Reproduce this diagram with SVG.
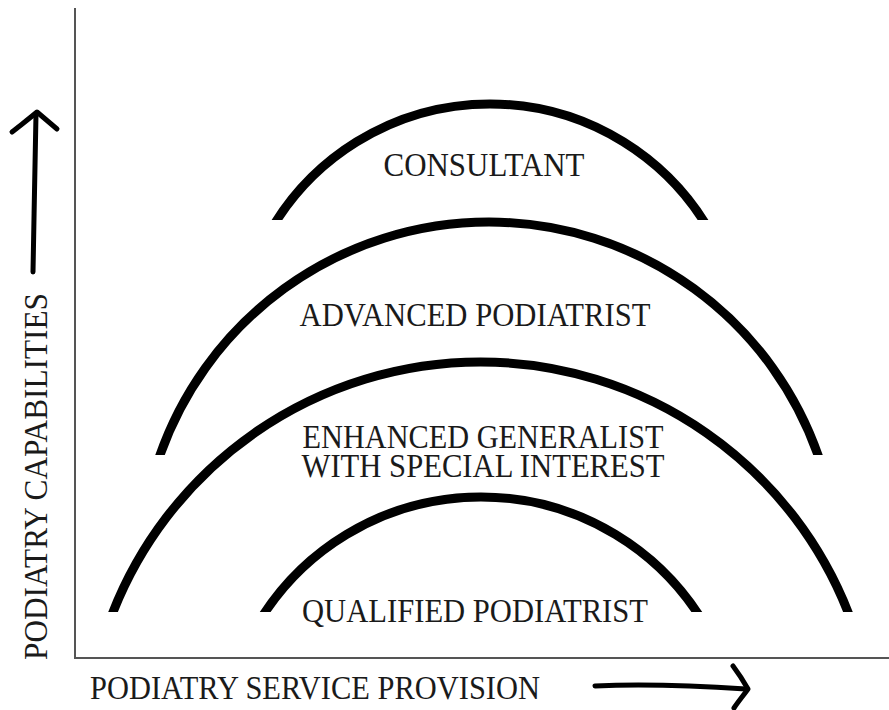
<svg xmlns="http://www.w3.org/2000/svg" width="889" height="710" viewBox="0 0 889 710">
<style>
.arc{fill:none;stroke:#000;stroke-width:9;stroke-linecap:butt}
.lbl{font-family:"Liberation Serif","Times New Roman",serif;font-size:34px;fill:#1a1a1a}
.axis{stroke:#555;stroke-width:2;fill:none}
.hand{fill:none;stroke:#000;stroke-width:5;stroke-linecap:round;stroke-linejoin:round}
</style>
<defs>
<clipPath id="c1"><rect x="0" y="0" width="889" height="220"/></clipPath>
<clipPath id="c2"><rect x="0" y="0" width="889" height="455"/></clipPath>
<clipPath id="c3"><rect x="0" y="0" width="889" height="612"/></clipPath>
</defs>
<rect width="889" height="710" fill="#fff"/>
<g id="axes">
<path class="axis" d="M75,8 V658 H889"/>
</g>
<g id="consultant">
<path class="arc" clip-path="url(#c1)" d="M272,228 A253.6,253.6 0 0 1 708,228"/>
<text class="lbl" x="484" y="176" text-anchor="middle" textLength="201" lengthAdjust="spacingAndGlyphs">CONSULTANT</text>
</g>
<g id="advanced">
<path class="arc" clip-path="url(#c2)" d="M157.3,463 A348.8,348.8 0 0 1 820.7,463"/>
<text class="lbl" x="475" y="326" text-anchor="middle" textLength="351" lengthAdjust="spacingAndGlyphs">ADVANCED PODIATRIST</text>
</g>
<g id="enhanced">
<path class="arc" clip-path="url(#c3)" d="M110,620 A395,395 0 0 1 851,620"/>
<text class="lbl" x="483" y="448" text-anchor="middle" textLength="361" lengthAdjust="spacingAndGlyphs">ENHANCED GENERALIST</text>
<text class="lbl" x="483" y="477" text-anchor="middle" textLength="363" lengthAdjust="spacingAndGlyphs">WITH SPECIAL INTEREST</text>
</g>
<g id="qualified">
<path class="arc" clip-path="url(#c3)" d="M260,620 A260,260 0 0 1 702,620"/>
<text class="lbl" x="475" y="622" text-anchor="middle" textLength="346" lengthAdjust="spacingAndGlyphs">QUALIFIED PODIATRIST</text>
</g>
<g id="y-label">
<text class="lbl" transform="translate(47,660) rotate(-90)" x="0" y="0" textLength="367" lengthAdjust="spacingAndGlyphs">PODIATRY CAPABILITIES</text>
</g>
<g id="x-label">
<text class="lbl" x="90" y="699" textLength="450" lengthAdjust="spacingAndGlyphs">PODIATRY SERVICE PROVISION</text>
</g>
<g id="connectors">
<path class="hand" d="M33,272 C34,220 35,160 36,114"/>
<path class="hand" d="M12,132 C22,124 30,118 37,112 C44,118 50,123 57,129"/>
<path class="hand" d="M595,686 C640,684 700,686 746,689"/>
<path class="hand" d="M733,666 C739,674 744,682 748,689 C743,696 738,702 734,708"/>
</g>
</svg>
